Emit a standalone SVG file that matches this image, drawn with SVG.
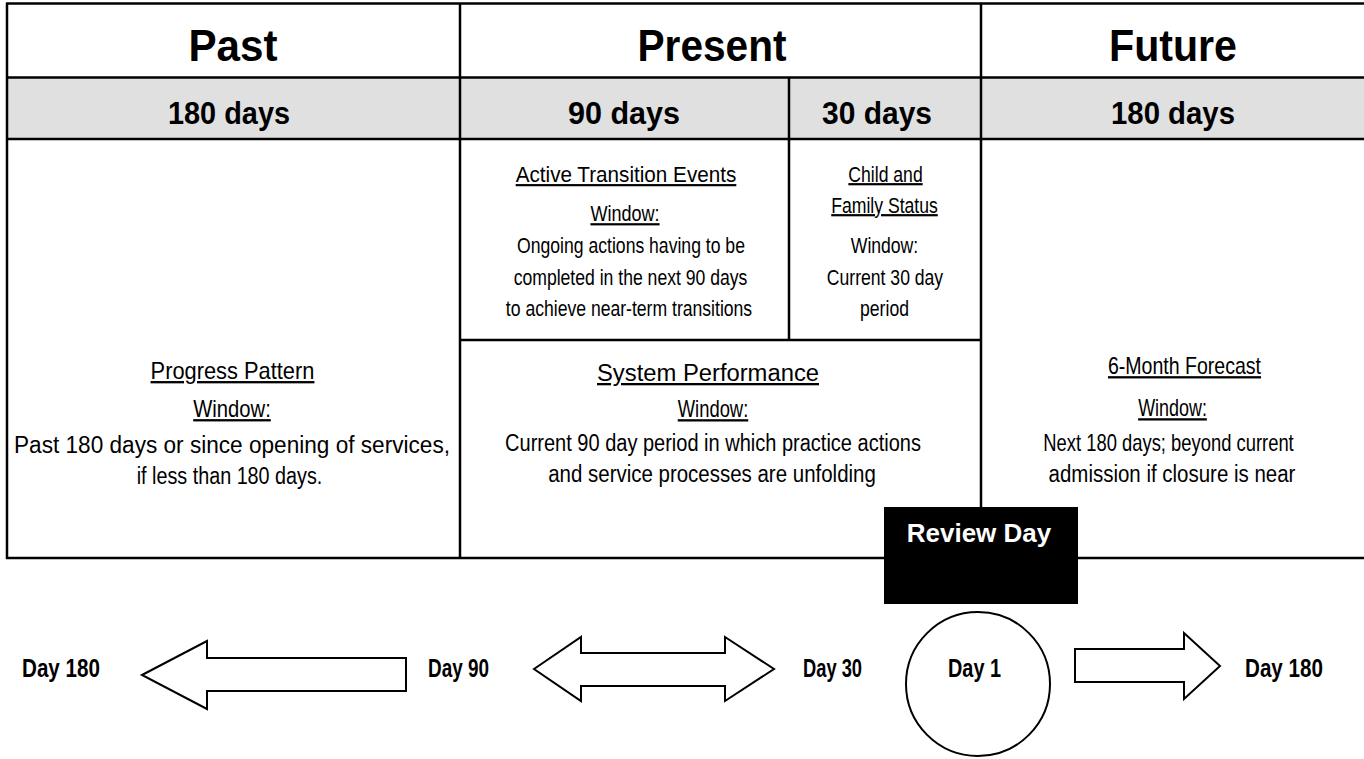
<svg xmlns="http://www.w3.org/2000/svg" width="1364" height="759" viewBox="0 0 1364 759">
<style>
.ln{stroke:#000;stroke-width:2.5;fill:none}
.hd{font-family:"Liberation Sans",Arial,sans-serif;font-weight:bold;font-size:45px;text-anchor:middle;fill:#000}
.sub{font-family:"Liberation Sans",Arial,sans-serif;font-weight:bold;font-size:32px;text-anchor:middle;fill:#000}
.bt{font-family:"Liberation Sans",Arial,sans-serif;font-size:23px;text-anchor:middle;fill:#000}
.sm{font-size:22px}
.u{text-decoration:underline}
.day{font-family:"Liberation Sans",Arial,sans-serif;font-weight:bold;font-size:26px;text-anchor:middle;fill:#000}
.arr{fill:#fff;stroke:#000;stroke-width:2;stroke-linejoin:miter}
</style>
<rect width="1364" height="759" fill="#fff"/>
<g id="table">
<rect x="7" y="77.5" width="1357" height="61.5" fill="#e0e0e0"/>
<line class="ln" x1="6" y1="3.5" x2="1364" y2="3.5"/>
<line class="ln" x1="6" y1="77.5" x2="1364" y2="77.5"/>
<line class="ln" x1="6" y1="139" x2="1364" y2="139"/>
<line class="ln" x1="6" y1="558" x2="1364" y2="558"/>
<line class="ln" x1="7" y1="3" x2="7" y2="559"/>
<line class="ln" x1="460" y1="3" x2="460" y2="559"/>
<line class="ln" x1="981" y1="3" x2="981" y2="508"/>
<line class="ln" x1="789" y1="77" x2="789" y2="340"/>
<line class="ln" x1="460" y1="340" x2="981" y2="340"/>
</g>
<g id="hdr-past">
<text class="hd" x="233" y="61" textLength="89" lengthAdjust="spacingAndGlyphs">Past</text>
<text class="sub" x="229" y="124" textLength="122" lengthAdjust="spacingAndGlyphs">180 days</text>
</g>
<g id="hdr-present">
<text class="hd" x="712" y="61" textLength="149" lengthAdjust="spacingAndGlyphs">Present</text>
<text class="sub" x="624" y="124" textLength="112" lengthAdjust="spacingAndGlyphs">90 days</text>
<text class="sub" x="877" y="124" textLength="110" lengthAdjust="spacingAndGlyphs">30 days</text>
</g>
<g id="hdr-future">
<text class="hd" x="1173" y="61" textLength="128" lengthAdjust="spacingAndGlyphs">Future</text>
<text class="sub" x="1173" y="124" textLength="124" lengthAdjust="spacingAndGlyphs">180 days</text>
</g>
<g id="progress-pattern">
<text class="bt u" transform="translate(232.5 379) scale(.95 1)">Progress Pattern</text>
<text class="bt u" transform="translate(232 417) scale(.88 1)">Window:</text>
<text class="bt" x="232" y="453" textLength="436" lengthAdjust="spacingAndGlyphs">Past 180 days or since opening of services,</text>
<text class="bt" transform="translate(229.5 484) scale(.86 1)">if less than 180 days.</text>
</g>
<g id="active-transition">
<text class="bt sm u" transform="translate(626 182) scale(.94 1)">Active Transition Events</text>
<text class="bt sm u" transform="translate(625 221) scale(.82 1)">Window:</text>
<text class="bt sm" transform="translate(631 253) scale(.8 1)">Ongoing actions having to be</text>
<text class="bt sm" transform="translate(630.5 285) scale(.8 1)">completed in the next 90 days</text>
<text class="bt sm" transform="translate(629 316) scale(.8 1)">to achieve near-term transitions</text>
</g>
<g id="child-family">
<text class="bt sm u" transform="translate(885.5 182) scale(.8 1)">Child and</text>
<text class="bt sm u" transform="translate(884.5 213) scale(.8 1)">Family Status</text>
<text class="bt sm" transform="translate(884.5 253) scale(.8 1)">Window:</text>
<text class="bt sm" transform="translate(885 285) scale(.8 1)">Current 30 day</text>
<text class="bt sm" transform="translate(884.5 316) scale(.8 1)">period</text>
</g>
<g id="system-performance">
<text class="bt u" x="708" y="381" textLength="222" lengthAdjust="spacingAndGlyphs">System Performance</text>
<text class="bt u" transform="translate(713 417) scale(.8 1)">Window:</text>
<text class="bt" transform="translate(713 451) scale(.87 1)">Current 90 day period in which practice actions</text>
<text class="bt" transform="translate(712 482) scale(.89 1)">and service processes are unfolding</text>
</g>
<g id="forecast">
<text class="bt u" transform="translate(1184.5 374) scale(.85 1)">6-Month Forecast</text>
<text class="bt u" transform="translate(1172.5 416) scale(.78 1)">Window:</text>
<text class="bt" transform="translate(1168.5 451) scale(.8 1)">Next 180 days; beyond current</text>
<text class="bt" transform="translate(1172 482) scale(.89 1)">admission if closure is near</text>
</g>
<g id="review-day">
<rect x="884" y="507" width="194" height="97" fill="#000"/>
<text x="979" y="542" font-family="'Liberation Sans',Arial,sans-serif" font-weight="bold" font-size="26" text-anchor="middle" fill="#fff">Review Day</text>
</g>
<g id="day1">
<circle cx="978" cy="684" r="72" fill="#fff" stroke="#000" stroke-width="2"/>
<text class="day" x="974.5" y="677" textLength="53" lengthAdjust="spacingAndGlyphs">Day 1</text>
</g>
<g id="labels">
<text class="day" x="61" y="677" textLength="78" lengthAdjust="spacingAndGlyphs">Day 180</text>
<text class="day" x="458.5" y="677" textLength="61" lengthAdjust="spacingAndGlyphs">Day 90</text>
<text class="day" x="832.5" y="677" textLength="59" lengthAdjust="spacingAndGlyphs">Day 30</text>
<text class="day" x="1284" y="677" textLength="78" lengthAdjust="spacingAndGlyphs">Day 180</text>
</g>
<g id="connectors">
<polygon class="arr" points="142,675 207,641 207,658 406,658 406,691 207,691 207,709"/>
<polygon class="arr" points="534,669 581,637 581,653 725,653 725,637 774,669 725,701 725,686 581,686 581,701"/>
<polygon class="arr" points="1075,649 1184,649 1184,633 1220,666 1184,699 1184,682 1075,682"/>
</g>
</svg>
